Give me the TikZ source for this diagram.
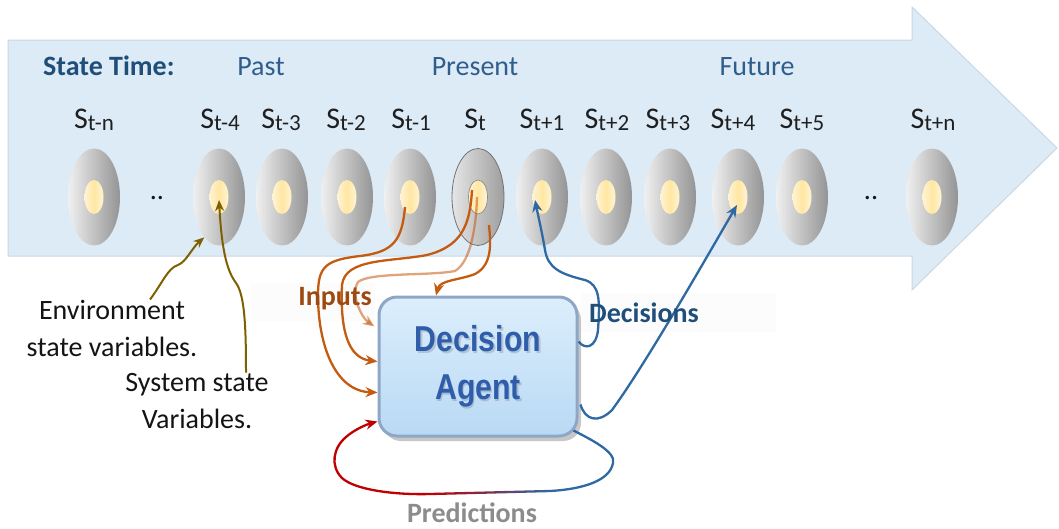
\documentclass[tikz,border=0pt]{standalone}
\usepackage{fontspec}
\setmainfont{Carlito}
\newfontfamily\agentfont[FakeStretch=0.84]{Liberation Sans}
\usetikzlibrary{arrows.meta,shapes.geometric,shadows,calc}

\definecolor{bandfill}{HTML}{DDEBF7}
\definecolor{bandedge}{HTML}{CAD7E4}
\definecolor{navy}{HTML}{1F4E79}
\definecolor{steel}{HTML}{2F5D8C}
\definecolor{inorange}{HTML}{C55A11}
\definecolor{inbrown}{HTML}{9C4A12}
\definecolor{olive}{HTML}{7F6000}
\definecolor{decblue}{HTML}{2E69A3}
\definecolor{predred}{HTML}{C00000}
\definecolor{predgray}{HTML}{8C8C8C}
\definecolor{agentedge}{HTML}{8FA7C6}
\definecolor{agenttop}{HTML}{DCEEFC}
\definecolor{agentbot}{HTML}{B9D9F4}
\definecolor{agenttext}{HTML}{2F5DAB}
\definecolor{yolk}{HTML}{FFF3D4}
\definecolor{yolkmid}{HTML}{FFE7A3}

% state label: S with a slightly lowered, smaller time index
\newcommand{\stlab}[1]{{\fontsize{30}{30}\selectfont S}\raisebox{-2pt}{\fontsize{23}{23}\selectfont #1}}

\begin{document}
\begin{tikzpicture}[x=1pt, y=-1pt,
  every node/.style={inner sep=0pt},
  stateoval/.style={ellipse, minimum width=52pt, minimum height=97pt,
    left color=black!6, right color=black!42},
  yolkoval/.style={ellipse, minimum width=19pt, minimum height=34pt,
    left color=yolk, right color=yolk, middle color=yolkmid},
  slabel/.style={anchor=base, text=black!88},
  heading/.style={anchor=base, font=\fontsize{28}{28}\selectfont, text=steel},
  plain/.style={anchor=base, font=\fontsize{28}{28}\selectfont, text=black!92},
  tagbg/.style={fill=black!2, fill opacity=0.55, draw=none},
  tagtext/.style={font=\bfseries\fontsize{28}{28}\selectfont},
  agentbox/.style={rectangle, rounded corners=18pt, minimum width=198pt,
    minimum height=139pt, top color=agenttop, bottom color=agentbot,
    draw=agentedge, line width=3pt,
    drop shadow={shadow xshift=4pt, shadow yshift=-5pt, fill=black, opacity=0.22}},
  agentlbl/.style={align=center, font=\agentfont\bfseries\fontsize{36}{48}\selectfont},
  link/.style={line width=2.3pt, -{Stealth[length=12pt,width=10pt]}},
  loopline/.style={line width=2.3pt},
  pointer/.style={line width=2pt, draw=olive, -{Stealth[length=11pt,width=9pt]}}
]
\useasboundingbox (0,0) rectangle (1059,528);

% time band as a wide arrow
\path[fill=bandfill, draw=bandedge, line width=1pt]
  (8,40) -- (912,40) -- (912,7) -- (1057,148) -- (912,290) -- (912,256) -- (8,256) -- cycle;

% headings
\node[anchor=base west, font=\bfseries\fontsize{28}{28}\selectfont, text=navy] (statetime) at (43,75) {State Time:};
\node[heading] (past) at (261,75) {Past};
\node[heading] (present) at (475,75) {Present};
\node[heading] (future) at (757,75) {Future};

% state labels
\foreach \nm/\x/\sub in {tn/94/t-n, tm4/220/t-4, tm3/281/t-3, tm2/346/t-2, tm1/411/t-1,
    t/475/t, tp1/542/t+1, tp2/607/t+2, tp3/668/t+3, tp4/733/t+4, tp5/802/t+5, tpn/933/t+n}
  \node[slabel] (l\nm) at (\x,128) {\stlab{\sub}};

% state ovals
\foreach \nm/\x in {tn/94, tm4/219, tm3/282, tm2/347, tm1/410, tp1/542, tp2/606,
    tp3/670, tp4/738, tp5/802, tpn/932} {
  \node[stateoval] (s\nm) at (\x,197) {};
  \node[yolkoval] (y\nm) at (\x,197) {};
}
% present state, outlined
\node[stateoval, left color=black!10, right color=black!38, draw=black!55, line width=0.8pt] (st) at (478,197) {};
\node[yolkoval, draw=black!45, line width=0.7pt] (yt) at (478,197) {};

\node[plain] (dotsl) at (157,199) {..};
\node[plain] (dotsr) at (871,199) {..};

% left-hand descriptions
\node[plain] (env1) at (112,319) {Environment};
\node[plain] (env2) at (112,356) {state variables.};
\node[plain] (sys1) at (197,391) {System state};
\node[plain] (sys2) at (197,428) {Variables.};

% label backdrops
\node[tagbg, minimum width=124pt, minimum height=38pt] (inputsbg) at (313,302) {};
\node[tagbg, minimum width=194pt, minimum height=39pt] (decisionsbg) at (679,312.5) {};

% decision agent
\node[agentbox] (agent) at (478,366.5) {};
\node[agentlbl, text=black, opacity=0.15] (agentshadow) at ($(agent.center)+(1.5,2)$) {Decision\\Agent};
\node[agentlbl, text=agenttext] (agentname) at (agent.center) {Decision\\Agent};

% pointers to the variables of a state
\draw[pointer] ($(env1.north)+(38,0)$) .. controls (163,282) and (168,268) .. (178,265)
  .. controls (186,262) and (192,248) .. (stm4.250);
\draw[pointer] ($(sys1.north)+(49,0)$) .. controls (246,330) and (245,295) .. (236,283)
  .. controls (228,272) and (222,255) .. ($(ytm4.center)+(0,3)$);

% inputs
\draw[link, draw=inorange] ($(ytm1.center)+(-5,10)$) .. controls (402,240) and (394,252) .. (360,256)
  .. controls (326,260) and (318,266) .. (318,295)
  .. controls (318,345) and (335,391) .. ($(agent.west)+(0,26)$);
\draw[link, draw=inorange] ($(yt.center)+(-6,-7)$) .. controls (470,225) and (462,246) .. (427,255)
  .. controls (390,262) and (345,258) .. (342,285)
  .. controls (340,330) and (348,358) .. ($(agent.west)+(0,-5)$);
\draw[link, draw=inorange, opacity=0.55] ($(yt.center)+(-1,0)$) .. controls (476,230) and (470,262) .. (455,271)
  .. controls (430,276) and (370,272) .. (358,282)
  .. controls (350,295) and (362,318) .. ($(agent.west)+(-3,-40)$);
\draw[link, draw=inorange] ($(st.center)+(11,28)$) .. controls (491,245) and (492,265) .. (475,274)
  .. controls (460,280) and (440,280) .. ($(agent.north)+(-42,0)$);

% decisions
\draw[link, draw=decblue] ($(agent.east)+(0,-25)$) .. controls (585,350) and (596,348) .. (598,330)
  .. controls (600,300) and (600,285) .. (585,280)
  .. controls (560,274) and (548,268) .. (545,250)
  .. controls (542,232) and (538,215) .. ($(ytp1.center)+(-7,3)$);
\draw[link, draw=decblue] ($(agent.east)+(2,38)$) .. controls (585,420) and (598,424) .. (612,410)
  .. controls (645,365) and (705,260) .. ($(ytp4.center)+(-1,8)$);

% predictions loop: blue leaving the agent, blending into red along the bottom
\coordinate (predA) at (550,491);
\coordinate (predB) at (430,494);
\draw[loopline, draw=decblue] ($(agent.south east)+(-5,-7)$) .. controls (592,440) and (616,452) .. (613,463)
  .. controls (610,480) and (585,489) .. (predA);
\foreach \i in {0,...,11} {
  \pgfmathsetmacro{\mix}{100-100*(\i+0.5)/12}
  \pgfmathsetmacro{\ta}{\i/12}
  \pgfmathsetmacro{\tb}{(\i+1)/12}
  \draw[loopline, draw=decblue!\mix!predred] ($(predA)!\ta!(predB)$) -- ($(predA)!\tb!(predB)$);
}
\draw[link, draw=predred] (predB) .. controls (395,495) and (355,490) .. (342,478)
  .. controls (330,466) and (333,448) .. (346,437)
  .. controls (355,429) and (368,424) .. ($(agent.west)+(0,55)$);

% arrow labels
\node[tagtext, anchor=base east, text=inbrown] (inputs) at (372,305) {Inputs};
\node[tagtext, anchor=base west, text=navy] (decisions) at (589,322) {Decisions};
\node[tagtext, anchor=base, text=predgray] (predictions) at (472,522) {Predictions};
\end{tikzpicture}
\end{document}
